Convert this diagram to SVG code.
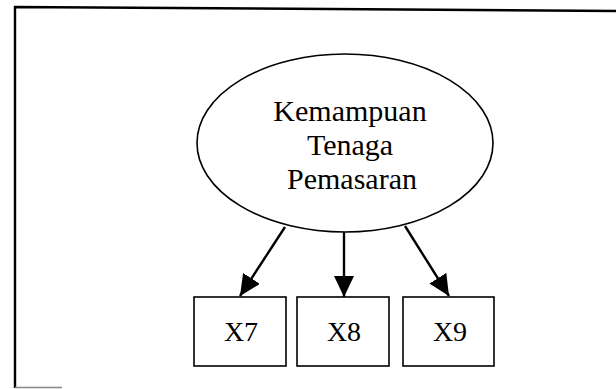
<svg xmlns="http://www.w3.org/2000/svg" width="616" height="389" viewBox="0 0 616 389">
<style>
  .shape { fill: #ffffff; stroke: #000000; stroke-width: 1.6; }
  .lbl { font-family: "Liberation Serif", "Times New Roman", serif; fill: #000000; text-anchor: middle; }
  .edge { stroke: #000000; stroke-width: 2.4; fill: none; marker-end: url(#arrow); }
</style>
<defs>
  <marker id="arrow" markerUnits="userSpaceOnUse" markerWidth="24" markerHeight="22" refX="21" refY="10" orient="auto">
    <path d="M0,0 L21,10 L0,20 Z" fill="#000000"/>
  </marker>
</defs>
<rect width="616" height="389" fill="#ffffff"/>
<g id="frame">
  <polyline points="15,388 15,7 330,9 616,11" fill="none" stroke="#000000" stroke-width="2.4"/>
  <line x1="15" y1="387.5" x2="62" y2="387.5" stroke="#888888" stroke-width="1.5"/>
</g>
<g id="connectors">
  <line class="edge" x1="285" y1="227" x2="240" y2="296"/>
  <line class="edge" x1="344" y1="232" x2="344" y2="297"/>
  <line class="edge" x1="405" y1="226" x2="449" y2="296"/>
</g>
<g id="kemampuan">
  <ellipse class="shape" cx="345" cy="143" rx="148" ry="89"/>
  <text class="lbl" x="350" y="121" font-size="30">Kemampuan</text>
  <text class="lbl" x="350" y="155" font-size="30">Tenaga</text>
  <text class="lbl" x="352" y="189" font-size="30">Pemasaran</text>
</g>
<g id="x7">
  <rect class="shape" x="194" y="297" width="92" height="69"/>
  <text class="lbl" x="241" y="341" font-size="28">X7</text>
</g>
<g id="x8">
  <rect class="shape" x="297" y="297" width="92" height="69"/>
  <text class="lbl" x="344" y="341" font-size="28">X8</text>
</g>
<g id="x9">
  <rect class="shape" x="403" y="297" width="91" height="69"/>
  <text class="lbl" x="450" y="341" font-size="28">X9</text>
</g>
</svg>
